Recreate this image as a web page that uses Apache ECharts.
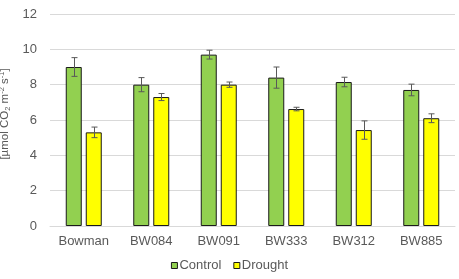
<!DOCTYPE html>
<html>
<head>
<meta charset="utf-8">
<script src="https://cdn.jsdelivr.net/npm/echarts@6/dist/echarts.min.js"></script>
<style>
  html, body { margin: 0; padding: 0; background: #fff; }
  #chart-container { width: 459px; height: 279px; }
</style>
</head>
<body>
<div id="chart-container"></div>
<script>
var dom = document.getElementById("chart-container");
var myChart = echarts.init(dom, null, { renderer: "canvas" });

const categories = ["Bowman", "BW084", "BW091", "BW333", "BW312", "BW885"];
const controlValues = [9.0, 8.0, 9.7, 8.4, 8.15, 7.7];
const controlErr = [0.53, 0.4, 0.25, 0.6, 0.27, 0.33];
const droughtValues = [5.3, 7.3, 8.0, 6.62, 5.43, 6.1];
const droughtErr = [0.3, 0.2, 0.15, 0.1, 0.52, 0.25];
const yTicks = [0, 2, 4, 6, 8, 10, 12];

const textColor = "#595959";
const font = "Liberation Sans, Arial, sans-serif";

function errorSeries(name, values, errs, offset) {
  return {
    name: name + " err",
    type: "custom",
    z: 10,
    silent: true,
    renderItem: function (params, api) {
      const i = api.value(0);
      const top = api.coord([i, api.value(2)]);
      const bot = api.coord([i, api.value(3)]);
      const x = Math.round(top[0] + offset) + 0.5;
      const cap = 3;
      const style = { stroke: "#595959", lineWidth: 1 };
      return {
        type: "group",
        children: [
          { type: "line", shape: { x1: x, y1: top[1], x2: x, y2: bot[1] }, style },
          { type: "line", shape: { x1: x - cap, y1: top[1], x2: x + cap, y2: top[1] }, style },
          { type: "line", shape: { x1: x - cap, y1: bot[1], x2: x + cap, y2: bot[1] }, style },
        ],
      };
    },
    data: values.map((v, i) => [i, v, v + errs[i], v - errs[i]]),
  };
}

var option = {
  animation: false,
  grid: { left: 50, right: 4, top: 14, bottom: 53, outerBoundsMode: "none" },
  legend: {
    bottom: 2,
    left: "center",
    icon: "rect",
    itemWidth: 6,
    itemHeight: 6,
    itemGap: 12,
    itemStyle: { borderColor: "#1a1a1a", borderWidth: 1 },
    textStyle: { color: textColor, fontSize: 13, fontFamily: font, padding: [0, 0, 0, -3] },
    data: ["Control", "Drought"],
  },
  xAxis: {
    type: "category",
    data: categories,
    axisTick: { show: false },
    axisLine: { lineStyle: { color: "#d9d9d9" } },
    axisLabel: { color: textColor, fontSize: 13, fontFamily: font, margin: 9 },
  },
  yAxis: {
    type: "value",
    min: 0,
    max: 12,
    interval: 2,
    axisLabel: { color: textColor, fontSize: 13, fontFamily: font, margin: 13 },
    splitLine: { lineStyle: { color: "#d9d9d9" } },
    name: "[µmol CO{sub|2} m{sup|-2} s{sup|-1}]",
    nameLocation: "middle",
    nameRotate: 90,
    nameGap: 34,
    nameTextStyle: {
      color: textColor,
      fontSize: 11.5,
      fontFamily: font,
      padding: [0, 0, 0, 12],
      rich: {
        sub: { fontSize: 7.5, color: textColor, fontFamily: font, verticalAlign: "bottom", lineHeight: 14 },
        sup: { fontSize: 7.5, color: textColor, fontFamily: font, verticalAlign: "top", lineHeight: 14 },
      },
    },
  },
  series: [
    {
      name: "Control",
      type: "bar",
      barWidth: 16,
      barGap: "25%",
      data: controlValues,
      itemStyle: { color: "#92D050", borderColor: "#1a1a1a", borderWidth: 1 },
    },
    {
      name: "Drought",
      type: "bar",
      barWidth: 16,
      data: droughtValues,
      itemStyle: { color: "#FFFF00", borderColor: "#1a1a1a", borderWidth: 1 },
    },
    errorSeries("Control", controlValues, controlErr, -10),
    errorSeries("Drought", droughtValues, droughtErr, 10),
  ],
};

myChart.setOption(option);
window.addEventListener("resize", myChart.resize);
</script>
</body>
</html>
